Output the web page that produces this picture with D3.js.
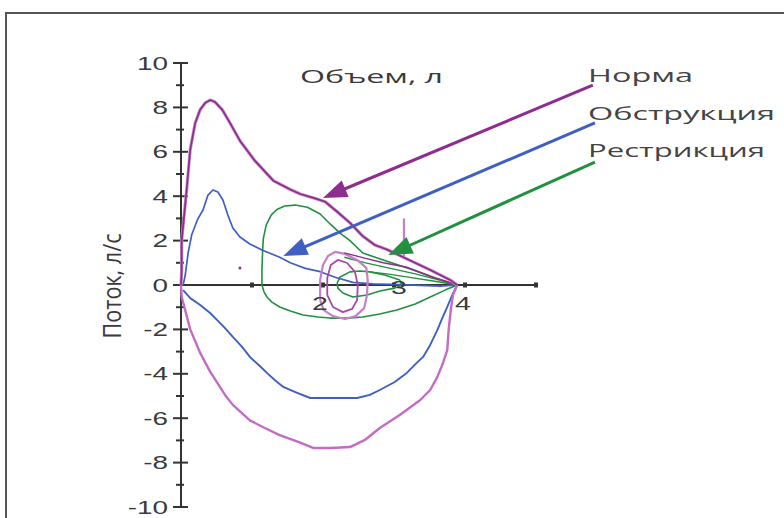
<!DOCTYPE html>
<html><head><meta charset="utf-8">
<script src="https://cdn.jsdelivr.net/npm/d3@7"></script>
<style>html,body{margin:0;padding:0;background:#fff;overflow:hidden}svg{display:block}</style>
</head><body>
<svg id="c" width="784" height="518"></svg>
<script>
// ---------- DATA (volume, L ; flow, L/s) ----------
const flowMajorTicks = [-10,-8,-6,-4,-2,0,2,4,6,8,10];
const flowMinorTicks = [-9,-7,-5,-3,-1,1,3,5,7,9];
const volumeTicks = [1,2,3,4,5];
const volumeTickLabels = ["2","3","4"];
const volumeTickLabelValues = [2,3,4];
const xTitle = "Объем, л";
const yTitle = "Поток, л/с";
const seriesNames = ["Норма","Обструкция","Рестрикция"];

const normExp = [[0,0],[0.01,0.7],[0.01,2.0],[0.04,3.0],[0.08,4.3],[0.13,6.1],[0.2,7.3],[0.27,7.9],[0.34,8.2],[0.41,8.33],[0.48,8.24],[0.58,7.9],[0.69,7.3],[0.83,6.5],[1.04,5.6],[1.3,4.7],[1.54,4.3],[1.68,4.1],[1.89,3.9],[2.03,3.75],[2.2,3.3],[2.38,2.8],[2.56,2.2],[2.73,1.8],[2.9,1.6],[3.23,1.1],[3.51,0.68],[3.79,0.23],[3.89,0]];
const normExp2 = [[2.3,1.45],[2.6,1.2],[2.85,1.0],[3.18,0.8],[3.55,0.35],[3.89,0]];
const normInsp = [[0,0],[0.01,-0.54],[0.13,-2.0],[0.27,-3.06],[0.41,-3.9],[0.51,-4.4],[0.62,-4.95],[0.73,-5.4],[0.97,-6.1],[1.18,-6.44],[1.39,-6.76],[1.68,-7.1],[1.86,-7.34],[2.1,-7.34],[2.38,-7.3],[2.59,-6.98],[2.8,-6.44],[3.08,-5.86],[3.37,-5.18],[3.51,-4.73],[3.61,-4.14],[3.68,-3.6],[3.75,-2.93],[3.77,-2.0],[3.8,-1.13],[3.83,-0.45],[3.89,0]];
const normTidalOuter = [[1.96,-0.68],[1.96,0.23],[2.0,0.9],[2.07,1.31],[2.17,1.49],[2.31,1.4],[2.48,1.13],[2.61,0.77],[2.63,0.23],[2.62,-0.45],[2.58,-1.04],[2.46,-1.4],[2.31,-1.53],[2.14,-1.4],[2.01,-1.13],[1.96,-0.68]];
const normTidalInner = [[2.06,-0.45],[2.06,0.32],[2.11,0.9],[2.21,1.13],[2.34,0.99],[2.45,0.59],[2.49,0],[2.48,-0.68],[2.41,-1.08],[2.28,-1.22],[2.14,-0.99],[2.06,-0.45]];
const normSpike = [[3.14,3.0],[3.14,1.2]];
const normDot = [[0.83,0.77]];

const obstrExp = [[0.03,0],[0.06,0.45],[0.1,1.44],[0.15,2.25],[0.23,2.93],[0.31,3.38],[0.38,4.05],[0.45,4.28],[0.52,4.19],[0.59,3.83],[0.66,3.15],[0.73,2.57],[0.83,2.16],[0.97,1.85],[1.14,1.58],[1.39,1.25],[1.54,1.0],[1.75,0.75],[1.96,0.6],[2.17,0.35],[2.42,0.12],[2.7,0.05],[3.08,0.02],[3.65,-0.05],[3.89,0]];
const obstrInsp = [[0.03,-0.23],[0.13,-0.59],[0.27,-0.9],[0.41,-1.26],[0.51,-1.58],[0.62,-1.94],[0.73,-2.34],[0.86,-2.79],[0.97,-3.24],[1.11,-3.65],[1.21,-3.96],[1.32,-4.28],[1.44,-4.59],[1.61,-4.82],[1.82,-5.09],[2.1,-5.09],[2.48,-5.09],[2.66,-4.95],[2.8,-4.73],[3.01,-4.37],[3.18,-3.96],[3.32,-3.51],[3.41,-3.24],[3.51,-2.7],[3.61,-2.03],[3.68,-1.49],[3.75,-0.99],[3.82,-0.45],[3.89,0]];

const restrExp = [[1.14,0],[1.14,0.68],[1.15,1.58],[1.16,2.1],[1.2,2.7],[1.27,3.15],[1.35,3.4],[1.46,3.56],[1.61,3.6],[1.78,3.5],[1.96,3.2],[2.1,2.75],[2.24,2.34],[2.38,2.0],[2.56,1.44],[2.85,1.13],[3.27,0.68],[3.58,0.32],[3.89,0]];
const restrInsp = [[1.14,0],[1.17,-0.32],[1.21,-0.54],[1.28,-0.77],[1.39,-0.99],[1.54,-1.17],[1.72,-1.35],[1.93,-1.44],[2.1,-1.49],[2.35,-1.49],[2.56,-1.44],[2.8,-1.31],[3.04,-1.13],[3.3,-0.86],[3.51,-0.54],[3.72,-0.23],[3.89,0]];
const restrTidal = [[2.2,0.09],[2.24,0.36],[2.38,0.59],[2.52,0.63],[2.66,0.59],[2.87,0.45],[3.08,0.23],[3.11,0],[3.01,-0.14],[2.8,-0.27],[2.62,-0.45],[2.42,-0.54],[2.28,-0.36],[2.21,-0.14],[2.2,0.09]];
const restrExtra1 = [[2.3,1.25],[2.6,1.0],[2.95,0.75],[3.3,0.5],[3.6,0.25],[3.89,0]];
const restrExtra2 = [[2.66,0.59],[2.9,0.5],[3.2,0.35],[3.55,0.18],[3.89,0]];

// annotation arrows: [startVolume, startFlow, tipVolume, tipFlow]
const arrowNorm = [5.8, 9.0, 2.0, 3.92];
const arrowObstr = [5.83, 7.3, 1.44, 1.31];
const arrowRestr = [5.83, 5.54, 2.92, 1.35];

// ---------- DRAW ----------
const svg = d3.select("#c");
const W = 784, H = 518;
const x = d3.scaleLinear().domain([0,5]).range([181,536]);
const y = d3.scaleLinear().domain([-10,10]).range([507,63]);

const C = {norm:"#8e2c8f", normIn:"#c46cc5", obstr:"#3f5fc4", restr:"#22903f", axis:"#333", text:"#3a3a3a"};

// frame
svg.append("path").attr("d", `M6,${H+5}V13H${W+5}`).attr("fill","none").attr("stroke","#555").attr("stroke-width",2);

// axes
svg.append("line").attr("x1",x(0)).attr("x2",x(0)).attr("y1",y(10)).attr("y2",y(-10)).attr("stroke",C.axis).attr("stroke-width",2);
svg.append("line").attr("x1",x(0)).attr("x2",x(5)).attr("y1",y(0)).attr("y2",y(0)).attr("stroke",C.axis).attr("stroke-width",2);
svg.selectAll(".tmaj").data(flowMajorTicks).join("line").attr("x1",x(0)-8).attr("x2",x(0)+7).attr("y1",d=>y(d)).attr("y2",d=>y(d)).attr("stroke",C.axis).attr("stroke-width",2);
svg.selectAll(".tmin").data(flowMinorTicks).join("line").attr("x1",x(0)-5).attr("x2",x(0)+3).attr("y1",d=>y(d)).attr("y2",d=>y(d)).attr("stroke",C.axis).attr("stroke-width",2);
svg.selectAll(".xt").data(volumeTicks).join("rect").attr("x",d=>x(d)-2).attr("y",y(0)-2.5).attr("width",4).attr("height",5).attr("fill",C.axis);

// tick labels (stretched horizontally like the reference)
const tickFont = "'Liberation Sans', Arial, sans-serif";
flowMajorTicks.forEach(v=>{
  svg.append("text").attr("transform",`translate(${x(0)-13},${y(v)+6.5}) scale(1.55,1)`)
    .attr("text-anchor","end").attr("font-family",tickFont).attr("font-size",18).attr("fill",C.text).text(v);
});

// series
const line = d3.line().x(d=>x(d[0])).y(d=>y(d[1]));
function path(data, color, w, op){
  svg.append("path").attr("d",line(data)).attr("fill","none").attr("stroke",color).attr("stroke-width",w)
    .attr("stroke-linejoin","round").attr("stroke-opacity",op||1);
}
path(restrExp, C.restr, 1.6);
path(restrInsp, C.restr, 1.6);
path(restrTidal, C.restr, 1.6);
path(restrExtra1, C.restr, 1.3);
path(restrExtra2, C.restr, 1.3);
path(obstrExp, C.obstr, 1.7);
path(obstrInsp, C.obstr, 1.9);
path(normTidalOuter, "#c77fc8", 2.2);
path(normTidalInner, "#a64aa8", 1.8);
path(normExp2, C.norm, 1.4);
path(normSpike, "#c77fc8", 2.2);
path(normInsp, C.normIn, 2.4);
path(normExp, "#c690c6", 3.2);
path(normExp, C.norm, 1.7);
svg.selectAll(".dot").data(normDot).join("circle").attr("cx",d=>x(d[0])).attr("cy",d=>y(d[1])).attr("r",1.5).attr("fill",C.norm);

// x tick labels (placed as in the reference)
const xLabelDy = {"2":25,"3":9,"4":25};
const xLabelDx = {"2":-3,"3":5,"4":-2};
volumeTickLabels.forEach((t,i)=>{
  const v = volumeTickLabelValues[i];
  svg.append("text").attr("transform",`translate(${x(v)+xLabelDx[t]},${y(0)+xLabelDy[t]}) scale(1.5,1)`)
    .attr("text-anchor","middle").attr("font-family",tickFont).attr("font-size",19).attr("fill",C.text).text(t);
});

// arrows
function arrow(a, color){
  const sx=x(a[0]), sy=y(a[1]), tx=x(a[2]), ty=y(a[3]);
  const dx=tx-sx, dy=ty-sy, L=Math.hypot(dx,dy), ux=dx/L, uy=dy/L;
  const hl=24, hw=9;
  const bx=tx-ux*hl, by=ty-uy*hl;
  svg.append("line").attr("x1",sx).attr("y1",sy).attr("x2",bx+ux*2).attr("y2",by+uy*2).attr("stroke",color).attr("stroke-width",3);
  svg.append("path").attr("d",`M${tx},${ty}L${bx-uy*hw},${by+ux*hw}L${bx+uy*hw},${by-ux*hw}Z`).attr("fill",color);
}
arrow(arrowNorm, C.norm);
arrow(arrowObstr, C.obstr);
arrow(arrowRestr, C.restr);

// titles & legend
const lblFont = "'Open Sans', 'Noto Sans', sans-serif";
svg.append("text").attr("x",300).attr("y",83).attr("font-family",lblFont).attr("font-size",18)
  .attr("textLength",143).attr("lengthAdjust","spacingAndGlyphs").attr("fill",C.text).text(xTitle);
svg.append("text").attr("transform","translate(121,286) scale(1.5,1) rotate(-90)").attr("text-anchor","middle")
  .attr("font-family",lblFont).attr("font-size",17.5).attr("textLength",105).attr("lengthAdjust","spacingAndGlyphs")
  .attr("fill",C.text).text(yTitle);
const legendY = [82,120,157];
const legendW = [105,187,177];
seriesNames.forEach((n,i)=>{
  svg.append("text").attr("x",588).attr("y",legendY[i]).attr("font-family",lblFont).attr("font-size",19)
    .attr("textLength",legendW[i]).attr("lengthAdjust","spacingAndGlyphs").attr("fill","#444").text(n);
});
</script>
</body></html>
